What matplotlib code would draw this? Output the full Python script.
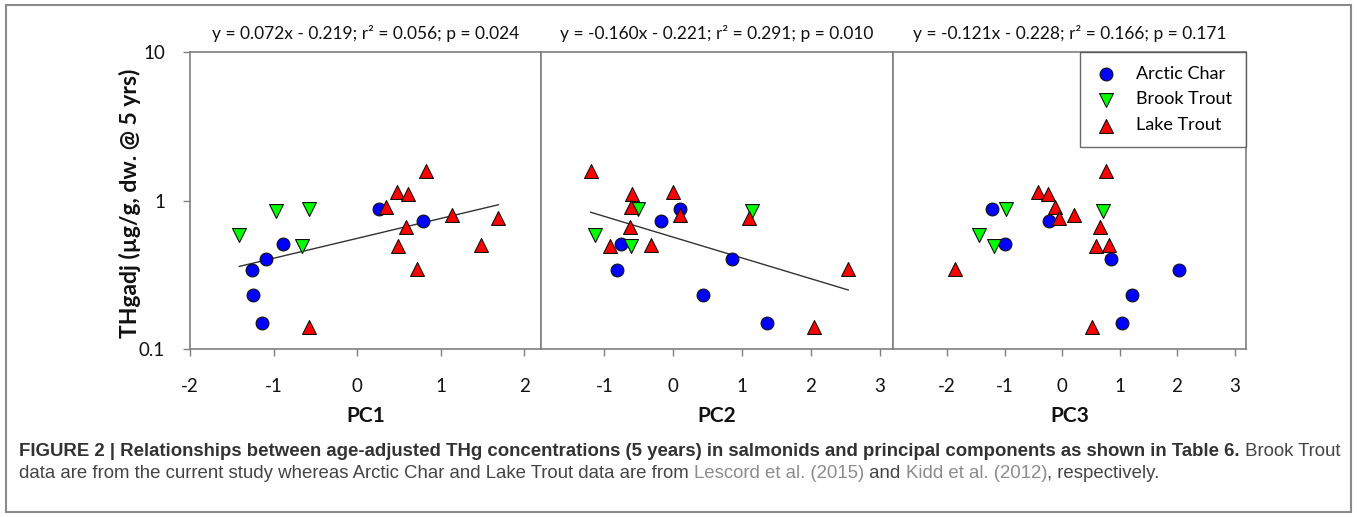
import numpy as np
import matplotlib
matplotlib.use("Agg")
import matplotlib.pyplot as plt
from matplotlib.patches import Rectangle

plt.rcParams['font.family'] = ['Lato', 'DejaVu Sans']

# age-adjusted THg (ug/g dw @ 5 yrs) - same fish appear in every panel
ac_thg = [0.342, 0.232, 0.150, 0.404, 0.510, 0.880, 0.730]
bt_thg = [0.586, 0.855, 0.880, 0.497]
lt_thg = [0.140, 0.345, 1.570, 1.140, 1.110, 0.910, 0.800, 0.760, 0.667, 0.497, 0.500]

# principal component scores, one row per PC
ac_pc = [[-1.26, -1.25, -1.14, -1.09, -0.89, 0.26, 0.79],
         [-0.82, 0.43, 1.36, 0.85, -0.76, 0.10, -0.18],
         [2.04, 1.21, 1.04, 0.86, -0.99, -1.22, -0.22]]
bt_pc = [[-1.41, -0.97, -0.575, -0.655],
         [-1.13, 1.15, -0.51, -0.61],
         [-1.44, 0.72, -0.97, -1.19]]
lt_pc = [[-0.58, 0.72, 0.82, 0.48, 0.61, 0.35, 1.14, 1.69, 0.59, 0.49, 1.48],
         [2.05, 2.54, -1.20, 0.00, -0.60, -0.62, 0.10, 1.10, -0.63, -0.92, -0.33],
         [0.53, -1.86, 0.77, -0.42, -0.24, -0.12, 0.20, -0.05, 0.66, 0.59, 0.82]]

# trend lines as drawn (log10 scale), None where no line
fit_slope = [0.134, -0.140, None]
fit_icpt = [-0.255, -0.247, None]
fit_span = [(-1.41, 1.69), (-1.20, 2.54), None]

pc_names = ['PC1', 'PC2', 'PC3']
titles = ['y = 0.072x - 0.219; r\u00b2 = 0.056; p = 0.024',
          'y = -0.160x - 0.221; r\u00b2 = 0.291; p = 0.010',
          'y = -0.121x - 0.228; r\u00b2 = 0.166; p = 0.171']
xticks = [[-2, -1, 0, 1, 2], [-1, 0, 1, 2, 3], [-2, -1, 0, 1, 2, 3]]
xlims = [(-2.0, 2.2), (-1.92, 3.19), (-2.94, 3.2)]
yticks = [0.1, 1, 10]
ytick_labels = ['0.1', '1', '10']

W, H = 1357, 517
fig = plt.figure(figsize=(W / 100, H / 100), dpi=100)

# outer frame
fig.patches.append(Rectangle((6 / W, 5 / H), 1345 / W, 507 / H, transform=fig.transFigure,
                             fill=False, edgecolor='#8a8a8a', lw=1.5))

edges = [190, 541, 893, 1246]
top, bot = 52, 349
spine_c = '#7f7f7f'

for i in range(3):
    ax = fig.add_axes([edges[i] / W, 1 - bot / H, (edges[i + 1] - edges[i]) / W, (bot - top) / H])
    ax.set_yscale('log')
    ax.set_ylim(0.1, 10)
    ax.set_xlim(*xlims[i])
    ax.scatter(ac_pc[i], ac_thg, s=85, marker='o', c='#0000ff', edgecolors='#111111',
               linewidths=0.8, zorder=3, label='Arctic Char')
    ax.scatter(bt_pc[i], bt_thg, s=100, marker='v', c='#00ff00', edgecolors='#111111',
               linewidths=0.8, zorder=3, label='Brook Trout')
    ax.scatter(lt_pc[i], lt_thg, s=100, marker='^', c='#ff0000', edgecolors='#111111',
               linewidths=0.8, zorder=3, label='Lake Trout')
    if fit_slope[i] is not None:
        xx = np.array(fit_span[i])
        ax.plot(xx, 10 ** (fit_icpt[i] + fit_slope[i] * xx), color='#333333', lw=1, zorder=2)

    for s in ax.spines.values():
        s.set_color(spine_c)
        s.set_linewidth(1.2)
    ax.set_xticks(xticks[i])
    ax.set_xticklabels([str(t) for t in xticks[i]])
    ax.tick_params(axis='x', direction='out', length=5, width=1, color=spine_c,
                   labelsize=13.5, pad=16, labelcolor='#111111')
    ax.yaxis.set_minor_locator(matplotlib.ticker.NullLocator())
    if i == 0:
        ax.set_yticks(yticks)
        ax.set_yticklabels(ytick_labels)
        ax.tick_params(axis='y', direction='out', length=5, width=1, color=spine_c,
                       labelsize=13.5, pad=13, labelcolor='#111111')
    else:
        ax.set_yticks([])

    cx = (edges[i] + edges[i + 1]) / 2 / W
    fig.text(cx, 1 - 33 / H, titles[i], ha='center', va='center', fontsize=12.5, color='#111111')
    fig.text(cx, 1 - 416 / H, pc_names[i], ha='center', va='center', fontsize=15,
             fontweight='bold', color='#111111')

    if i == 2:
        leg = ax.legend(loc='upper right', borderaxespad=0, fancybox=False, fontsize=13,
                        frameon=True, handletextpad=1.0, borderpad=0.75, labelspacing=0.55,
                        handlelength=1.4)
        leg.get_frame().set_edgecolor('#444444')
        leg.get_frame().set_linewidth(1.0)

fig.text(130 / W, 1 - 203 / H, 'THgadj (\u00b5g/g, dw. @ 5 yrs)', rotation=90, ha='center',
         va='center', fontsize=16.5, fontweight='bold', color='#111111')

# caption with mixed styles
cap_font = ['Liberation Sans', 'DejaVu Sans']
renderer = fig.canvas.get_renderer()


def put_runs(x_px, y_px, runs):
    x = x_px / W
    for s, weight, color in runs:
        t = fig.text(x, 1 - y_px / H, s, fontweight=weight, color=color, family=cap_font,
                     fontsize=13.4, va='center', ha='left')
        x += t.get_window_extent(renderer).width / W


put_runs(19, 451, [
    ('FIGURE 2 | Relationships between age-adjusted THg concentrations (5 years) in salmonids '
     'and principal components as shown in Table 6.', 'bold', '#333333'),
    (' Brook Trout', 'normal', '#444444')])
put_runs(19, 474, [
    ('data are from the current study whereas Arctic Char and Lake Trout data are from ', 'normal', '#444444'),
    ('Lescord et al. (2015)', 'normal', '#8c8c8c'),
    (' and ', 'normal', '#444444'),
    ('Kidd et al. (2012)', 'normal', '#8c8c8c'),
    (', respectively.', 'normal', '#444444')])

fig.savefig('out.png', dpi=100)
